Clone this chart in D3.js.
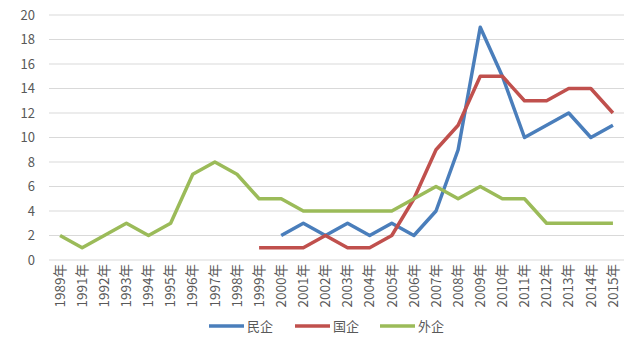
<!DOCTYPE html>
<html><head><meta charset="utf-8">
<script src="https://cdn.jsdelivr.net/npm/d3@7"></script>
<style>body{margin:0;background:#fff}svg{display:block}</style>
</head><body>
<svg id="c" width="644" height="339"></svg>
<script>
const categories = ["1989年","1991年","1992年","1993年","1994年","1995年","1996年","1997年","1998年","1999年","2000年","2001年","2002年","2003年","2004年","2005年","2006年","2007年","2008年","2009年","2010年","2011年","2012年","2013年","2014年","2015年"];
const privateVals = [null,null,null,null,null,null,null,null,null,null,2,3,2,3,2,3,2,4,9,19,15,10,11,12,10,11];
const stateVals   = [null,null,null,null,null,null,null,null,null,1,1,1,2,1,1,2,5,9,11,15,15,13,13,14,14,12];
const foreignVals = [2,1,2,3,2,3,7,8,7,5,5,4,4,4,4,4,5,6,5,6,5,5,3,3,3,3];
const yTicks = [0,2,4,6,8,10,12,14,16,18,20];
const seriesNames = ["民企","国企","外企"];
const colors = ["#4a7ebb","#c0504d","#9bbb59"];

const svg = d3.select("#c");
const font = "'Noto Sans CJK SC','Noto Sans',sans-serif";
const x = d3.scaleBand().domain(categories).range([49, 624]);
const y = d3.scaleLinear().domain([0, 20]).range([260, 15]);

svg.append("g").selectAll("line").data(yTicks).join("line")
  .attr("x1", 49).attr("x2", 624)
  .attr("y1", d => y(d)).attr("y2", d => y(d))
  .attr("stroke", "#d9d9d9").attr("stroke-width", 1);

svg.append("g").selectAll("text").data(yTicks).join("text")
  .attr("x", 35).attr("y", d => y(d)).attr("dy", "0.35em")
  .attr("text-anchor", "end").attr("font-family", font).attr("font-size", 13)
  .attr("fill", "#595959").text(d => d);

svg.append("g").selectAll("text").data(categories).join("text")
  .attr("transform", d => `translate(${x(d) + x.bandwidth()/2},264) rotate(-90)`)
  .attr("dy", "0.35em").attr("text-anchor", "end")
  .attr("font-family", font).attr("font-size", 13.5).attr("fill", "#595959")
  .text(d => d);

const line = d3.line().defined(d => d.v != null)
  .x(d => x(d.c) + x.bandwidth()/2).y(d => y(d.v));

[privateVals, stateVals, foreignVals].forEach((vals, i) => {
  svg.append("path")
    .datum(categories.map((c, j) => ({c, v: vals[j]})))
    .attr("d", line).attr("fill", "none")
    .attr("stroke", colors[i]).attr("stroke-width", 3.5)
    .attr("stroke-linejoin", "round").attr("stroke-linecap", "butt");
});

const lx = [209, 295, 380];
const lg = svg.append("g");
seriesNames.forEach((n, i) => {
  lg.append("line").attr("x1", lx[i]).attr("x2", lx[i] + 35)
    .attr("y1", 326).attr("y2", 326).attr("stroke", colors[i]).attr("stroke-width", 3.5);
  lg.append("text").attr("x", lx[i] + 38).attr("y", 326).attr("dy", "0.35em")
    .attr("font-family", font).attr("font-size", 13).attr("fill", "#595959").text(n);
});
</script>
</body></html>
